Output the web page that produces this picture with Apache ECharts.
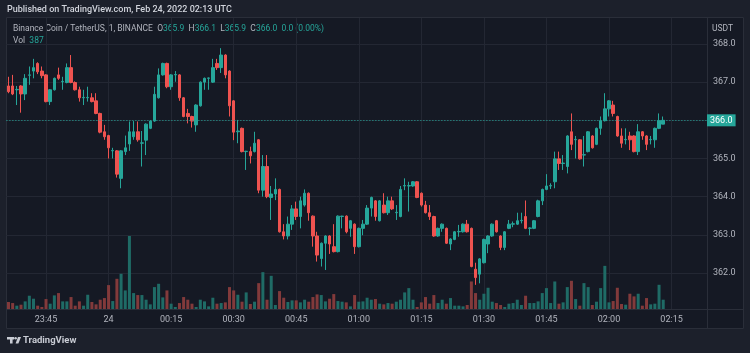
<!DOCTYPE html>
<html>
<head>
<meta charset="utf-8">
<title>BNBUSDT 1m</title>
<script src="https://cdn.jsdelivr.net/npm/echarts@6/dist/echarts.min.js"></script>
<style>
    html, body { margin: 0; padding: 0; background: #1b1f2a; }
    #main { width: 750px; height: 353px; }
</style>
</head>
<body>
<div id="main"></div>
<script>
// K线数据 [open, close, low, high]，一分钟一根，从 23:36 开始
var candles = [
    [366.90, 366.75, 366.71, 367.14], [366.90, 366.69, 366.66, 367.19], [366.80, 366.81, 366.40, 366.90], [366.90, 366.69, 366.20, 366.92],
    [366.69, 367.10, 366.53, 367.21], [367.18, 367.19, 366.93, 367.41], [367.29, 367.38, 367.10, 367.61], [367.49, 367.27, 367.21, 367.52],
    [367.29, 367.17, 367.10, 367.41], [367.19, 366.49, 366.47, 367.21], [366.49, 366.80, 366.40, 366.82], [366.80, 367.10, 366.78, 367.12],
    [367.19, 367.10, 367.06, 367.38], [367.01, 367.02, 366.80, 367.14], [366.99, 367.38, 366.97, 367.49], [367.38, 366.99, 366.97, 367.71],
    [366.99, 366.80, 366.78, 367.02], [366.80, 366.59, 366.49, 366.88], [366.59, 366.60, 366.40, 366.80], [366.59, 366.60, 366.49, 366.88],
    [366.59, 366.49, 366.47, 366.71], [366.51, 366.18, 366.16, 366.71], [366.18, 365.69, 365.66, 366.20], [365.70, 365.57, 365.49, 365.88],
    [365.60, 365.28, 365.00, 365.62], [365.20, 365.21, 365.00, 365.28], [365.20, 364.59, 364.50, 365.22], [364.48, 365.20, 364.22, 365.22],
    [365.18, 365.28, 365.09, 365.60], [365.38, 365.70, 365.20, 365.97], [365.57, 365.70, 365.49, 365.98], [365.70, 365.49, 365.44, 365.97],
    [365.40, 365.41, 364.79, 365.72], [365.48, 365.90, 365.09, 365.92], [365.79, 365.98, 365.77, 366.00], [365.98, 366.68, 365.96, 366.88],
    [366.59, 367.19, 366.57, 367.36], [367.19, 367.49, 367.17, 367.51], [367.49, 366.88, 366.84, 367.51], [366.88, 367.19, 366.80, 367.21],
    [367.19, 367.20, 367.01, 367.29], [367.19, 366.59, 366.51, 367.21], [366.59, 366.10, 366.08, 366.61], [366.18, 366.10, 365.92, 366.30],
    [366.10, 365.98, 365.81, 366.12], [365.88, 366.40, 365.70, 366.42], [366.38, 367.00, 366.36, 367.02], [367.00, 367.10, 366.80, 367.12],
    [367.10, 367.11, 366.80, 367.12], [367.00, 367.38, 366.98, 367.61], [367.49, 367.38, 367.32, 367.61], [367.38, 367.71, 367.24, 367.89],
    [367.71, 367.19, 367.10, 367.73], [367.29, 366.38, 366.10, 367.31], [366.51, 365.69, 365.48, 366.53], [365.70, 365.72, 365.40, 366.01],
    [365.79, 365.18, 365.16, 365.81], [365.18, 365.19, 364.70, 365.20], [365.18, 365.07, 364.87, 365.31], [365.18, 365.40, 365.16, 365.70],
    [365.49, 364.17, 364.09, 365.51], [364.17, 364.79, 364.00, 365.09], [364.79, 364.00, 363.96, 365.09], [363.98, 364.07, 363.39, 364.28],
    [364.07, 364.19, 363.91, 364.48], [364.19, 363.08, 363.06, 364.21], [363.08, 362.97, 362.88, 363.28], [362.97, 363.28, 362.88, 363.48],
    [363.28, 363.68, 363.13, 363.78], [363.68, 363.48, 363.39, 363.87], [363.48, 363.89, 363.17, 364.00], [363.78, 364.09, 363.74, 364.19],
    [364.09, 363.58, 363.37, 364.11], [363.49, 362.97, 362.69, 363.51], [362.97, 362.47, 362.30, 363.08], [362.38, 362.78, 362.17, 362.80],
    [362.78, 362.97, 362.08, 362.99], [362.97, 362.76, 362.50, 362.99], [362.69, 362.56, 362.54, 363.28], [362.56, 363.49, 362.54, 363.51],
    [363.48, 363.49, 363.17, 363.50], [363.49, 363.08, 363.04, 363.51], [363.17, 363.37, 362.95, 363.39], [363.28, 362.69, 362.50, 363.30],
    [362.69, 363.17, 362.67, 363.19], [363.17, 363.28, 362.99, 363.39], [363.28, 363.70, 363.26, 363.78], [363.70, 363.98, 363.48, 364.00],
    [363.89, 363.48, 363.37, 363.91], [363.37, 363.89, 363.35, 363.91], [363.78, 363.58, 363.56, 364.09], [363.58, 363.89, 363.52, 364.00],
    [363.89, 363.68, 363.65, 364.00], [363.58, 363.59, 363.39, 363.78], [363.48, 364.19, 363.46, 364.28], [364.28, 364.29, 364.17, 364.48],
    [364.28, 364.29, 363.61, 364.39], [364.28, 364.39, 364.26, 364.41], [364.39, 363.98, 363.96, 364.41], [364.09, 363.78, 363.74, 364.11],
    [363.78, 363.58, 363.56, 363.89], [363.58, 363.48, 363.39, 363.78], [363.48, 362.97, 362.95, 363.50], [362.97, 363.17, 362.95, 363.19],
    [363.17, 363.28, 363.08, 363.30], [363.17, 362.78, 362.76, 363.19], [362.76, 362.89, 362.60, 362.91], [362.88, 363.08, 362.86, 363.10],
    [363.08, 363.09, 362.95, 363.26], [363.08, 363.28, 363.06, 363.30], [363.28, 363.08, 363.06, 363.39], [363.17, 362.17, 362.15, 363.19],
    [362.10, 361.88, 361.69, 362.27], [361.97, 362.37, 361.73, 362.39], [362.27, 362.88, 362.25, 362.90], [362.76, 362.97, 362.52, 362.99],
    [362.97, 363.28, 362.95, 363.30], [363.37, 363.08, 363.06, 363.39], [362.97, 362.67, 362.60, 362.99], [362.67, 363.08, 362.60, 363.10],
    [363.17, 363.28, 363.15, 363.39], [363.28, 363.29, 363.20, 363.35], [363.28, 363.37, 363.26, 363.58], [363.37, 363.38, 363.30, 363.58],
    [363.48, 363.17, 363.15, 363.90], [363.17, 363.18, 362.99, 363.20], [363.17, 363.37, 363.15, 363.39], [363.48, 363.89, 363.46, 363.92],
    [363.89, 364.19, 363.78, 364.21], [364.19, 364.28, 364.17, 364.59], [364.28, 364.29, 364.20, 364.35], [364.39, 364.99, 364.22, 365.18],
    [364.99, 364.87, 364.70, 365.18], [364.87, 364.88, 364.70, 365.09], [364.79, 365.59, 364.61, 365.61], [365.70, 365.37, 365.22, 366.18],
    [365.49, 365.50, 365.00, 365.59], [365.49, 364.99, 364.97, 365.51], [365.09, 365.10, 364.79, 365.59], [365.18, 365.70, 365.16, 365.72],
    [365.59, 365.28, 365.26, 365.61], [365.37, 365.79, 365.35, 365.81], [365.79, 365.99, 365.62, 366.10], [365.99, 366.30, 365.97, 366.71],
    [366.30, 366.51, 366.10, 366.53], [366.40, 366.18, 366.10, 366.51], [366.10, 365.59, 365.57, 366.12], [365.59, 365.40, 365.28, 365.79],
    [365.49, 365.50, 365.37, 365.79], [365.59, 365.49, 365.22, 365.70], [365.59, 365.18, 365.16, 365.61], [365.18, 365.70, 365.09, 365.90],
    [365.70, 365.59, 365.49, 365.72], [365.59, 365.37, 365.22, 365.61], [365.49, 365.50, 365.37, 365.59], [365.49, 365.79, 365.28, 365.81],
    [365.79, 365.99, 365.77, 366.18], [365.90, 366.00, 365.90, 366.10]
];

// 成交量
var volumes = [
    290, 248, 138, 179, 317, 552, 428, 138, 83, 414,
    221, 566, 662, 317, 317, 497, 138, 317, 138, 593,
    290, 193, 386, 455, 994, 331, 1256, 1463, 773, 3036,
    662, 580, 580, 386, 193, 911, 1049, 483, 773, 221,
    83, 248, 497, 386, 221, 83, 386, 317, 110, 469,
    221, 248, 276, 911, 773, 593, 304, 690, 207, 304,
    1076, 1532, 386, 1380, 166, 745, 469, 290, 359, 359,
    276, 386, 304, 497, 607, 580, 317, 428, 621, 331,
    304, 276, 110, 580, 304, 317, 469, 386,
    414, 221, 193, 248, 221, 304, 386, 690, 869, 386,
    83, 276, 497, 221, 580, 248, 386, 221, 455, 138,
    138, 110, 166, 1145, 662, 386, 635, 883, 304, 248,
    166, 83, 221, 248, 386, 166, 552, 248, 248, 317,
    662, 869, 248, 1145, 221, 276, 911, 1173, 414, 138,
    1076, 911, 166, 304, 869, 1794, 276, 331, 883, 207,
    179, 635, 524, 635, 138, 455, 193, 221, 1007, 387
];

// 时间轴显示的刻度
var timeLabels = ['23:45', '00:00', '00:15', '00:30', '00:45', '01:00', '01:15', '01:30', '01:45', '02:00', '02:15'];

(function() {
    var myChart = echarts.init(document.getElementById('main'));

    var upColor = '#26a69a';
    var downColor = '#ef5350';
    var textColor = '#b2b5be';
    var gridColor = '#232733';
    var borderColor = '#2a2e39';
    var outerBg = '#1c202b';
    var font = 'Roboto';

    // 23:36 ~ 02:23，右边留白
    var times = [];
    for (var i = 0; i < 168; i++) {
        var m = (23 * 60 + 36 + i) % 1440;
        var hh = Math.floor(m / 60), mm = m % 60;
        times.push((hh < 10 ? '0' : '') + hh + ':' + (mm < 10 ? '0' : '') + mm);
    }

    function isLabelTime(index, value) {
        return timeLabels.indexOf(value) >= 0;
    }

    var last = candles[candles.length - 1];
    var prev = candles[candles.length - 2];
    var change = last[1] - prev[1];

    var volData = volumes.map(function(v, i) {
        var c = candles[i];
        return {
            value: v,
            itemStyle: { color: c[1] >= c[0] ? '#1f6b66' : '#823a3b' }
        };
    });

    var option = {
        backgroundColor: '#151924',
        animation: false,
        textStyle: { fontFamily: font },
        grid: [
            { left: 6.4, right: 43, top: 18, bottom: 41.8 },
            { left: 6.4, right: 43, top: 18, bottom: 44 }
        ],
        xAxis: [{
                type: 'category',
                gridIndex: 0,
                data: times,
                boundaryGap: true,
                show: false
            },
            {
                type: 'category',
                gridIndex: 1,
                data: times,
                boundaryGap: true,
                axisLine: { show: false },
                axisTick: { show: false },
                axisLabel: {
                    interval: isLabelTime,
                    color: textColor,
                    fontSize: 9,
                    margin: 6,
                    formatter: function(value) {
                        return value === '00:00' ? '24' : value;
                    }
                },
                splitLine: {
                    show: true,
                    interval: isLabelTime,
                    alignWithLabel: true,
                    lineStyle: { color: gridColor, width: 1 }
                }
            }
        ],
        yAxis: [{
                type: 'value',
                gridIndex: 0,
                position: 'right',
                min: 361,
                max: 368.68,
                interval: 1,
                axisLine: { show: false },
                axisTick: { show: false },
                axisLabel: {
                    color: textColor,
                    fontSize: 9,
                    margin: 6,
                    formatter: function(v) {
                        if (v < 361.5 || Math.abs(v - Math.round(v)) > 1e-6) return '';
                        return v.toFixed(1);
                    }
                },
                splitLine: {
                    showMinLine: false,
                    showMaxLine: false,
                    lineStyle: { color: gridColor, width: 1 }
                }
            },
            {
                type: 'value',
                gridIndex: 1,
                min: 0,
                // 成交量最高柱约占面板高度的 1/4
                max: function(v) {
                    return v.max * 291 / 73;
                },
                show: false
            }
        ],
        series: [{
                name: 'Vol',
                type: 'bar',
                xAxisIndex: 1,
                yAxisIndex: 1,
                barWidth: 3,
                z: 1,
                data: volData
            },
            {
                name: 'BNBUSDT',
                type: 'candlestick',
                xAxisIndex: 0,
                yAxisIndex: 0,
                barWidth: 3,
                z: 3,
                itemStyle: {
                    color: upColor,
                    color0: downColor,
                    borderColor: upColor,
                    borderColor0: downColor,
                    borderWidth: 1
                },
                data: candles,
                markLine: {
                    silent: true,
                    symbol: 'none',
                    lineStyle: { color: upColor, type: [1, 2], width: 1 },
                    label: {
                        position: 'end',
                        distance: 0,
                        color: '#ffffff',
                        fontSize: 9,
                        fontFamily: font,
                        backgroundColor: upColor,
                        padding: [2, 3, 1, 3],
                        formatter: function(p) {
                            return p.value.toFixed(1);
                        }
                    },
                    data: [{ yAxis: last[1] }]
                }
            }
        ],
        graphic: [
            // 外框
            { type: 'rect', silent: true, shape: { x: 0, y: 0, width: 750, height: 17 }, style: { fill: outerBg } },
            { type: 'rect', silent: true, shape: { x: 0, y: 329, width: 750, height: 24 }, style: { fill: outerBg } },
            { type: 'rect', silent: true, shape: { x: 0, y: 0, width: 6, height: 353 }, style: { fill: outerBg } },
            { type: 'rect', silent: true, shape: { x: 744, y: 0, width: 6, height: 353 }, style: { fill: outerBg } },
            { type: 'rect', silent: true, shape: { x: 6.5, y: 17.5, width: 737, height: 311 }, style: { fill: 'none', stroke: borderColor } },
            { type: 'line', silent: true, shape: { x1: 6, y1: 309.5, x2: 744, y2: 309.5 }, style: { stroke: borderColor } },
            { type: 'line', silent: true, shape: { x1: 707.5, y1: 17, x2: 707.5, y2: 329 }, style: { stroke: borderColor } },
            {
                type: 'text',
                silent: true,
                style: {
                    x: 7,
                    y: 10,
                    text: 'Published on TradingView.com, Feb 24, 2022 02:13 UTC',
                    fill: '#d1d4dc',
                    font: '500 9px ' + font,
                    verticalAlign: 'middle'
                }
            },
            {
                type: 'text',
                silent: true,
                style: {
                    x: 13,
                    y: 29,
                    verticalAlign: 'middle',
                    text: '{g|Binance Coin / TetherUS, 1, BINANCE  O}{v|' + last[0].toFixed(1) +
                        '}{g|  H}{v|' + last[3].toFixed(1) +
                        '}{g|  L}{v|' + last[2].toFixed(1) +
                        '}{g|  C}{v|' + last[1].toFixed(1) +
                        '}{g|  }{v|' + change.toFixed(1) + ' (' + (change / prev[1] * 100).toFixed(2) + '%)}',
                    rich: {
                        g: { fill: textColor, fontSize: 8.5, fontFamily: font },
                        v: { fill: upColor, fontSize: 8.5, fontFamily: font }
                    }
                }
            },
            {
                type: 'text',
                silent: true,
                style: {
                    x: 13,
                    y: 41,
                    verticalAlign: 'middle',
                    text: '{g|Vol  }{v|' + volumes[volumes.length - 1] + '}',
                    rich: {
                        g: { fill: textColor, fontSize: 8.5, fontFamily: font },
                        v: { fill: upColor, fontSize: 8.5, fontFamily: font }
                    }
                }
            },
            {
                type: 'text',
                silent: true,
                style: { x: 712, y: 29, text: 'USDT', fill: textColor, font: '8.5px ' + font, verticalAlign: 'middle' }
            },
            // TradingView logo
            { type: 'rect', silent: true, shape: { x: 7, y: 337, width: 7, height: 2.5 }, style: { fill: '#c9ccd4' } },
            { type: 'rect', silent: true, shape: { x: 10, y: 337, width: 2.6, height: 6.5 }, style: { fill: '#c9ccd4' } },
            { type: 'circle', silent: true, shape: { cx: 15.6, cy: 338.3, r: 1.3 }, style: { fill: '#c9ccd4' } },
            { type: 'polygon', silent: true, shape: { points: [[18, 337], [21, 337], [18.4, 343.5], [15.6, 343.5]] }, style: { fill: '#c9ccd4' } },
            {
                type: 'text',
                silent: true,
                style: { x: 23, y: 340.5, text: 'TradingView', fill: '#c9ccd4', font: 'bold 9.5px ' + font, verticalAlign: 'middle' }
            }
        ]
    };

    myChart.setOption(option);

    window.addEventListener('resize', function() {
        myChart.resize();
    });
})();
</script>
</body>
</html>
